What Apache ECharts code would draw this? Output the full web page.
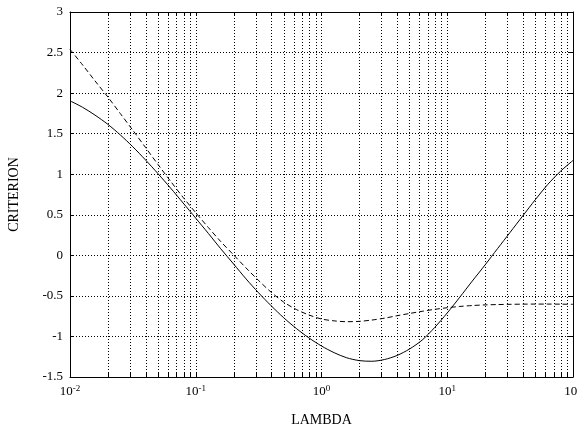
<!DOCTYPE html>
<html>
<head>
<meta charset="utf-8">
<script src="https://cdn.jsdelivr.net/npm/echarts@6/dist/echarts.min.js"></script>
<style>
html,body{margin:0;padding:0;background:#fff;}
#chart{width:577px;height:429px;}
</style>
</head>
<body>
<div id="chart"></div>
<script>
var lambda = [0.01, 0.0126, 0.0158, 0.02, 0.0251, 0.0316, 0.0398, 0.0501, 0.0631, 0.0794,
              0.1, 0.126, 0.158, 0.2, 0.251, 0.316, 0.398, 0.501, 0.631, 0.794,
              1, 1.26, 1.58, 2, 2.51, 3.16, 3.98, 5.01, 6.31, 7.94,
              10, 12.6, 15.8, 20, 25.1, 31.6, 39.8, 50.1, 63.1, 79.4, 100];
var solidValues = [1.905, 1.825, 1.729, 1.615, 1.485, 1.338, 1.177, 1.007, 0.829, 0.645,
                   0.458, 0.27, 0.081, -0.107, -0.29, -0.462, -0.622, -0.77, -0.902, -1.018,
                   -1.118, -1.2, -1.262, -1.298, -1.306, -1.285, -1.235, -1.155, -1.045, -0.89,
                   -0.71, -0.515, -0.318, -0.118, 0.082, 0.283, 0.485, 0.685, 0.875, 1.035, 1.17];
var dashedValues = [2.54, 2.347, 2.151, 1.952, 1.749, 1.542, 1.331, 1.12, 0.913, 0.714,
                    0.525, 0.343, 0.17, 0.005, -0.155, -0.31, -0.455, -0.577, -0.668, -0.735,
                    -0.785, -0.808, -0.818, -0.814, -0.798, -0.775, -0.745, -0.717, -0.69, -0.666,
                    -0.646, -0.63, -0.619, -0.611, -0.607, -0.604, -0.602, -0.601, -0.601, -0.602, -0.604];
var xMajorExponents = [-2, -1, 0, 1, 2];
var xMinorTicks = [0.02, 0.03, 0.04, 0.05, 0.06, 0.07, 0.08, 0.09,
                   0.2, 0.3, 0.4, 0.5, 0.6, 0.7, 0.8, 0.9,
                   2, 3, 4, 5, 6, 7, 8, 9,
                   20, 30, 40, 50, 60, 70, 80, 90];
var yTicks = [-1.5, -1, -0.5, 0, 0.5, 1, 1.5, 2, 2.5, 3];
var xName = 'LAMBDA';
var yName = 'CRITERION';

var FONT = '"Liberation Serif", "Times New Roman", serif';

function pairs(xs, ys) { return xs.map(function (x, i) { return [x, ys[i]]; }); }

var chart = echarts.init(document.getElementById('chart'), null, {renderer: 'canvas'});
var dotted = {color: '#000', width: 1, type: [1, 2]};

var option = {
  animation: false,
  backgroundColor: '#fff',
  grid: {left: 70, right: 4, top: 12, bottom: 52, containLabel: false, outerBoundsMode: 'none'},
  xAxis: [{
    type: 'log', logBase: 10,
    min: Math.pow(10, xMajorExponents[0]),
    max: Math.pow(10, xMajorExponents[xMajorExponents.length - 1]),
    name: xName, nameLocation: 'middle', nameGap: 36,
    nameTextStyle: {fontFamily: FONT, fontSize: 14, color: '#000'},
    axisLine: {onZero: false, lineStyle: {color: '#000', width: 1}},
    axisTick: {inside: true, length: 4, lineStyle: {color: '#000'}},
    axisLabel: {
      margin: 7, color: '#000', fontFamily: FONT, fontSize: 13,
      hideOverlap: false, showMinLabel: true, showMaxLabel: true,
      formatter: function (v) {
        var e = Math.round(Math.log10(v));
        return '10{sup|' + e + '}';
      },
      rich: {sup: {fontSize: 9, fontFamily: FONT, color: '#000', verticalAlign: 'top', padding: [0, 0, 6, 0]}}
    },
    splitLine: {show: true, lineStyle: dotted}
  }, {
    type: 'log', logBase: 10, position: 'top',
    min: Math.pow(10, xMajorExponents[0]),
    max: Math.pow(10, xMajorExponents[xMajorExponents.length - 1]),
    axisLine: {onZero: false, lineStyle: {color: '#000', width: 1}},
    axisTick: {inside: true, length: 4, lineStyle: {color: '#000'}},
    axisLabel: {show: false},
    splitLine: {show: false}
  }],
  yAxis: [{
    type: 'value', min: yTicks[0], max: yTicks[yTicks.length - 1], interval: 0.5,
    name: yName, nameLocation: 'middle', nameGap: 49, nameRotate: 90,
    nameTextStyle: {fontFamily: FONT, fontSize: 14, color: '#000'},
    axisLine: {show: true, onZero: false, lineStyle: {color: '#000', width: 1}},
    axisTick: {show: true, inside: true, length: 4, lineStyle: {color: '#000'}},
    axisLabel: {margin: 7, color: '#000', fontFamily: FONT, fontSize: 13},
    splitLine: {show: true, lineStyle: dotted}
  }, {
    type: 'value', position: 'right', min: yTicks[0], max: yTicks[yTicks.length - 1], interval: 0.5,
    axisLine: {show: true, onZero: false, lineStyle: {color: '#000', width: 1}},
    axisTick: {show: true, inside: true, length: 4, lineStyle: {color: '#000'}},
    axisLabel: {show: false},
    splitLine: {show: false}
  }],
  series: [{
    type: 'custom',
    silent: true,
    xAxisIndex: 0, yAxisIndex: 0,
    z: 1,
    data: xMinorTicks.map(function (v) { return [v, 0]; }),
    encode: {x: 0, y: 1},
    renderItem: function (params, api) {
      var cs = params.coordSys;
      var x = Math.round(api.coord([api.value(0), 0])[0]) + 0.5;
      var top = cs.y, bottom = cs.y + cs.height;
      return {
        type: 'group',
        children: [
          {type: 'line', shape: {x1: x, y1: top, x2: x, y2: bottom},
           style: {stroke: '#000', lineWidth: 1, lineDash: [1, 2]}},
          {type: 'line', shape: {x1: x, y1: bottom, x2: x, y2: bottom - 4},
           style: {stroke: '#000', lineWidth: 1}},
          {type: 'line', shape: {x1: x, y1: top, x2: x, y2: top + 4},
           style: {stroke: '#000', lineWidth: 1}}
        ]
      };
    }
  }, {
    type: 'line', name: 'solid',
    data: pairs(lambda, solidValues),
    smooth: 0.3, showSymbol: false, symbol: 'none',
    lineStyle: {color: '#000', width: 1, type: 'solid'},
    z: 5
  }, {
    type: 'line', name: 'dashed',
    data: pairs(lambda, dashedValues),
    smooth: 0.3, showSymbol: false, symbol: 'none',
    lineStyle: {color: '#000', width: 1, type: [5, 3]},
    z: 5
  }]
};
chart.setOption(option);
</script>
</body>
</html>
